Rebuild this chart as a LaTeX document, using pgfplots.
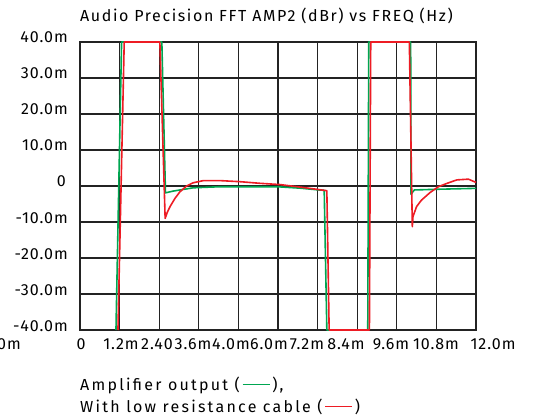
\documentclass[border=0pt]{standalone}
\usepackage{fontspec}
\setmainfont{Fira Sans}
\newfontfamily\lblfont[LetterSpace=6]{Fira Sans}
\newfontfamily\titlefont[LetterSpace=10]{Fira Sans}
\newfontfamily\legfont[LetterSpace=14]{Fira Sans}
\usepackage{pgfplots}
\pgfplotsset{compat=1.18}
\definecolor{apgreen}{RGB}{0,166,81}
\definecolor{apred}{RGB}{237,28,36}
\definecolor{gridc}{RGB}{35,35,35}

\begin{document}
\begin{tikzpicture}
\useasboundingbox (0pt,0pt) rectangle (534pt,415pt);
\begin{axis}[
  at={(80pt,85pt)}, anchor=south west,
  scale only axis, width=396pt, height=288pt,
  xmin=0, xmax=12, ymin=-40, ymax=40,
  xtick={0,1.2,2.4,3.6,4.8,6,7.2,8.4,9.6,10.8,12},
  ytick={-40,-30,-20,-10,0,10,20,30,40},
  xticklabels={,,}, yticklabels={,,},
  major tick length=0pt,
  grid=major,
  major grid style={gridc, line width=1.3pt},
  axis line style={gridc, line width=1.3pt},
  clip=false,
]
% amplifier output
\addplot[apgreen, line width=1.6pt, line join=round] coordinates {
(1.09,-40) (1.26,40) (2.48,40) (2.59,-1.9) (2.83,-1.4) (3.03,-1.1)
(3.43,-0.5) (4.24,-0.2) (5.45,-0.2) (6.06,-0.25) (6.67,-0.6) (7.24,-1.1)
(7.40,-1.2) (7.48,-40) (8.72,-40) (8.75,40) (10.02,40) (10.03,-2.3)
(10.13,-1.1) (10.85,-0.9) (12.0,-0.65)
};
% with low resistance cable
\addplot[apred, line width=1.6pt, line join=round] coordinates {
(1.15,-40) (1.34,40) (2.42,40) (2.58,-9.0) (2.65,-7.2) (2.73,-5.7)
(2.88,-3.4) (3.03,-1.6) (3.23,0) (3.43,0.9) (3.74,1.5) (4.24,1.5)
(4.85,1.2) (5.45,0.75) (6.06,0.4) (6.67,-0.3) (7.24,-1.0) (7.48,-1.3)
(7.55,-40) (8.77,-40) (8.81,40) (9.98,40) (10.07,-11.3) (10.09,-8.5)
(10.20,-5.7) (10.35,-3.9) (10.61,-1.8) (10.86,-0.2) (11.11,0.7)
(11.42,1.7) (11.77,1.9) (12.0,1.0)
};
\end{axis}
% title
\node[anchor=base west, inner sep=0pt, font=\titlefont\fontsize{16}{19}\selectfont]
  at (80pt,393pt) {Audio Precision FFT AMP2 (dBr) vs FREQ (Hz)};
% y tick labels
\begin{scope}[every node/.style={anchor=base east, inner sep=0pt, font=\lblfont\fontsize{16}{19}\selectfont}]
\node at (68pt,372pt) {40.0m};
\node at (68pt,336pt) {30.0m};
\node at (68pt,300pt) {20.0m};
\node at (68pt,264pt) {10.0m};
\node at (66pt,228pt) {0};
\node at (68pt,192pt) {-10.0m};
\node at (68pt,156pt) {-20.0m};
\node at (68pt,120pt) {-30.0m};
\node at (68pt,84pt) {-40.0m};
\end{scope}
% x tick labels
\begin{scope}[every node/.style={anchor=base, inner sep=0pt, font=\lblfont\fontsize{16}{19}\selectfont}]
\node[anchor=base east] at (21pt,66pt) {0m};
\node at (81pt,66pt) {0};
\node at (121pt,66pt) {1.2m};
\node at (157pt,66pt) {2.40};
\node at (193pt,66pt) {3.6m};
\node at (231pt,66pt) {4.0m};
\node at (269pt,66pt) {6.0m};
\node at (307pt,66pt) {7.2m};
\node at (346pt,66pt) {8.4m};
\node at (391pt,66pt) {9.6m};
\node at (436pt,66pt) {10.8m};
\node at (493pt,66pt) {12.0m};
\end{scope}
% legend
\begin{scope}[every node/.style={anchor=base west, inner sep=0pt, font=\legfont\fontsize{16}{19}\selectfont}]
\node at (80pt,25pt) {Amplifier output (\,{\color{apgreen}\rule[0.3em]{27pt}{1.6pt}}\,),};
\node at (80pt,3pt) {With low resistance cable (\,{\color{apred}\rule[0.3em]{27pt}{1.6pt}}\,)};
\end{scope}
\end{tikzpicture}
\end{document}
